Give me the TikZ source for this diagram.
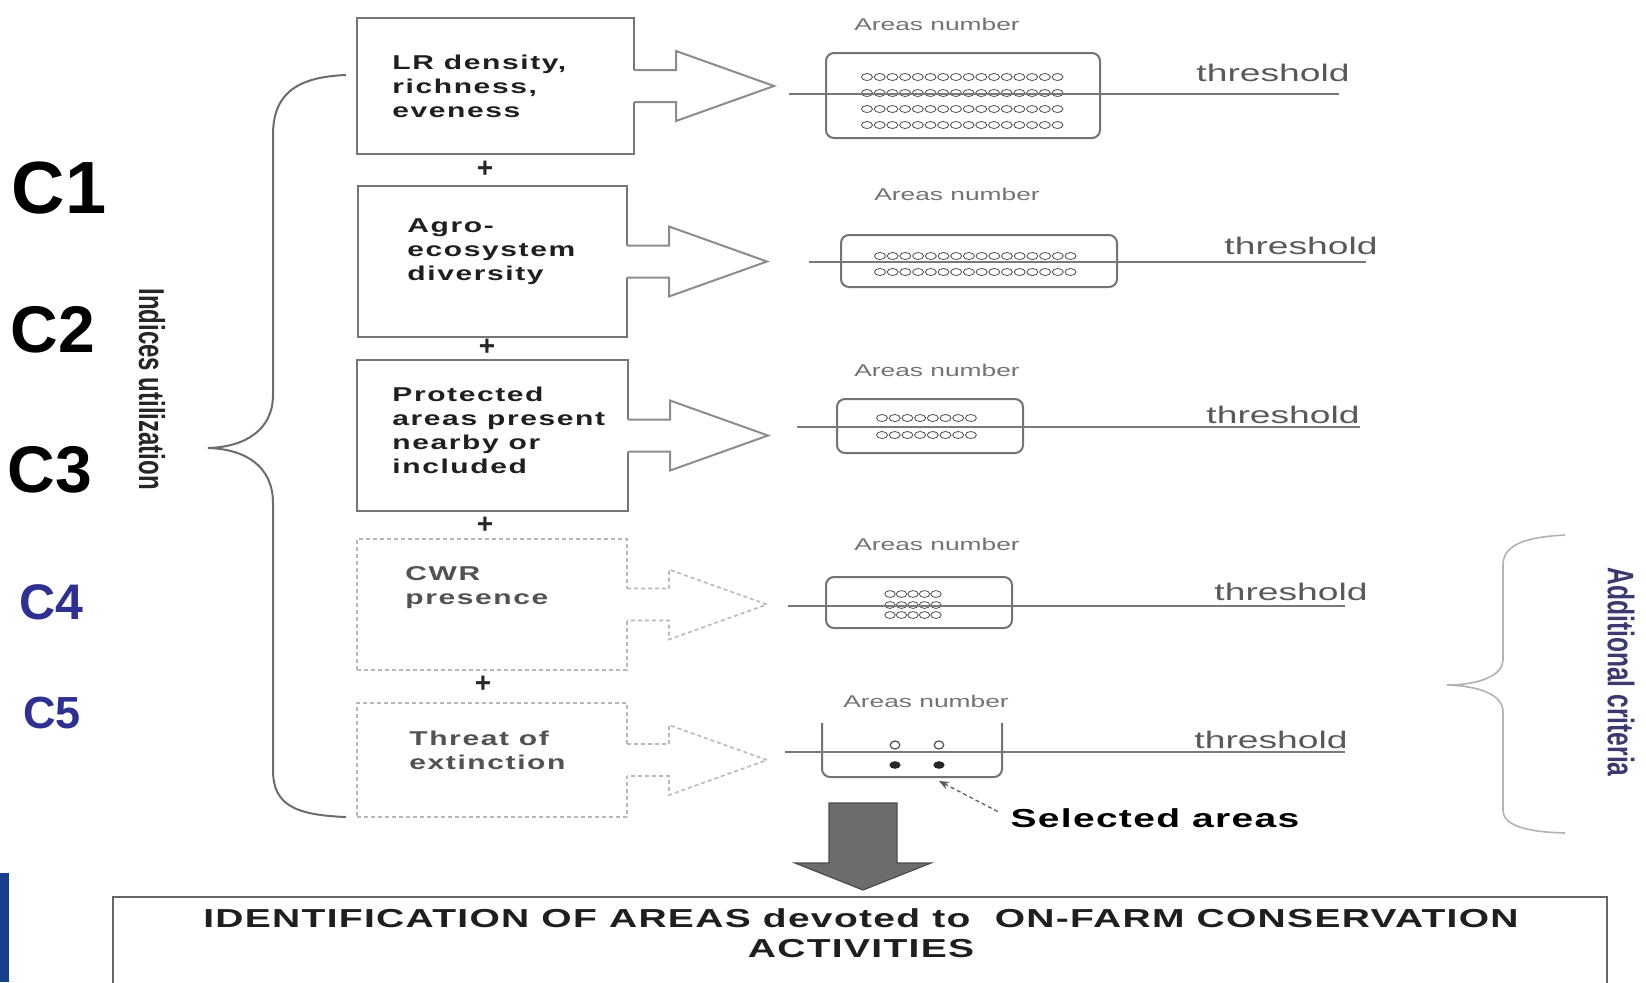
\documentclass[tikz,border=0pt]{standalone}
\usepackage{fontspec}
\setmainfont{Liberation Sans}
\setsansfont{Liberation Sans}
\newfontfamily\wbox{Liberation Sans}[FakeStretch=1.5,LetterSpace=8]
\newfontfamily\wbot{Liberation Sans}[FakeStretch=1.5,LetterSpace=5]
\newfontfamily\wreg{Liberation Sans}[FakeStretch=1.55]
\usetikzlibrary{calc,arrows.meta}
\definecolor{cblue}{RGB}{46,49,146}
\definecolor{barblue}{RGB}{24,62,140}
\definecolor{addblue}{RGB}{58,58,110}
\definecolor{boxgray}{RGB}{118,118,118}
\newcommand{\barrow}[2]{%
  \fill[white] ($(#1)+(-2,-16)$) -- ($(#1)+(42,-16)$) -- ($(#1)+(42,-35)$) -- ($(#1)+(140,0)$) -- ($(#1)+(42,35)$) -- ($(#1)+(42,16)$) -- ($(#1)+(-2,16)$) -- cycle;
  \draw[#2] ($(#1)+(0,-16)$) -- ($(#1)+(42,-16)$) -- ($(#1)+(42,-35)$) -- ($(#1)+(140,0)$) -- ($(#1)+(42,35)$) -- ($(#1)+(42,16)$) -- ($(#1)+(0,16)$);}
\begin{document}
\begin{tikzpicture}[x=0.5pt,y=-0.5pt,
  crit/.style={draw=boxgray, line width=1.3pt, inner sep=0pt, outer sep=0pt},
  critd/.style={draw=gray!55, line width=0.8pt, dash pattern=on 2pt off 1.5pt, inner sep=0pt, outer sep=0pt},
  ctext/.style={font=\wbox\bfseries\fontsize{10}{12}\selectfont, align=left, inner sep=0pt, anchor=west, text=black!88},
  ctextd/.style={ctext, text=black!68},
  barr/.style={draw=gray!90, line width=1pt, line join=miter},
  barrd/.style={draw=gray!55, line width=0.8pt, dash pattern=on 2pt off 1.5pt},
  abox/.style={draw=gray!90!black, line width=1pt, rounded corners=4pt, inner sep=0pt, outer sep=0pt},
  thr/.style={draw=gray!95!black, line width=1pt},
  thrtext/.style={font=\wreg\fontsize{12}{12}\selectfont, text=black!65, inner sep=0pt},
  antext/.style={font=\wreg\fontsize{8.5}{9}\selectfont, text=black!55, inner sep=0pt},
  dotc/.style={draw=black!70, line width=0.4pt},
  plus/.style={font=\bfseries\fontsize{14}{14}\selectfont, text=black!85, inner sep=0pt},
  clab/.style={inner sep=0pt},
  brace/.style={draw=gray!85!black, line width=1pt},
  bigarr/.style={fill=gray!85!black, draw=gray!60!black, line width=0.6pt}]
\fill[white] (0,0) rectangle (1646,982);
\useasboundingbox (0,0) rectangle (1646,982);

% C labels
\node[clab, font=\bfseries\fontsize{37}{40}\selectfont] (c1) at (59,188) {C1};
\node[clab, font=\bfseries\fontsize{33}{36}\selectfont] (c2) at (53,330) {C2};
\node[clab, font=\bfseries\fontsize{33}{36}\selectfont] (c3) at (50,470) {C3};
\node[clab, font=\bfseries\fontsize{25}{28}\selectfont, text=cblue] (c4) at (51,602) {C4};
\node[clab, font=\bfseries\fontsize{22.5}{25}\selectfont, text=cblue] (c5) at (52,713) {C5};

% rotated labels
\node[rotate=-90, inner sep=0pt, text=black!85] (iu) at (152,389) {\scalebox{1}[1.5]{\bfseries\fontsize{12}{12}\selectfont Indices utilization}};
\node[rotate=-90, inner sep=0pt, text=addblue] (ac) at (1621,672) {\scalebox{1}[1.5]{\bfseries\fontsize{12.3}{12}\selectfont Additional criteria}};

% braces
\draw[brace] (346,75) .. controls (295,77) and (273,95) .. (273,135) -- (273,395) .. controls (273,430) and (245,447) .. (208,448) .. controls (245,449) and (273,466) .. (273,503) -- (273,770) .. controls (273,805) and (295,815) .. (346,817);
\draw[draw=gray!60, line width=0.8pt] (1565,535) .. controls (1525,537) and (1503,545) .. (1503,565) -- (1503,660) .. controls (1503,675) and (1480,685) .. (1447,685) .. controls (1480,686) and (1503,695) .. (1503,712) -- (1503,810) .. controls (1503,825) and (1525,832) .. (1565,833);

% criterion boxes
\node[crit, minimum width=138.5pt, minimum height=68pt] (b1) at (495.5,86) {};
\node[crit, minimum width=134.5pt, minimum height=75.5pt] (b2) at (492.5,261.5) {};
\node[crit, minimum width=135.5pt, minimum height=75.5pt] (b3) at (492.5,435.5) {};
\node[critd, minimum width=135pt, minimum height=65.5pt] (b4) at (492,604.5) {};
\node[critd, minimum width=135pt, minimum height=57pt] (b5) at (492,760) {};

\node[ctext] (t1) at (392,86) {LR density,\\richness,\\eveness};
\node[ctext] (t2) at (407,252) {Agro-\\ecosystem\\diversity};
\node[ctext] (t3) at (392,430) {Protected\\areas present\\nearby or\\included};
\node[ctextd] (t4) at (405,588) {CWR\\presence};
\node[ctextd] (t5) at (409,750) {Threat of\\extinction};

\node[plus] (p1) at (485,169) {+};
\node[plus] (p2) at (487,347) {+};
\node[plus] (p3) at (485,525) {+};
\node[plus] (p4) at (483,684) {+};

% block arrows
\barrow{b1.east}{barr}
\barrow{b2.east}{barr}
\barrow{b3.east}{barr}
\barrow{b4.east}{barrd}
\barrow{b5.east}{barrd}

% area boxes
\node[abox, minimum width=137pt, minimum height=42.5pt] (ab1) at (963,95.5) {};
\node[abox, minimum width=138pt, minimum height=26pt] (ab2) at (979,261) {};
\node[abox, minimum width=93pt, minimum height=27pt] (ab3) at (930,426) {};
\node[abox, minimum width=93pt, minimum height=25.5pt] (ab4) at (919,602.5) {};
\node[inner sep=0pt, outer sep=0pt, minimum width=90pt, minimum height=27pt] (ab5) at (912,750) {};
\draw[abox] (ab5.north west) -- (ab5.south west) -- (ab5.south east) -- (ab5.north east);

\node[antext] (an1) at (937,24) {Areas number};
\node[antext] (an2) at (957,194) {Areas number};
\node[antext] (an3) at (937,370) {Areas number};
\node[antext] (an4) at (937,544) {Areas number};
\node[antext] (an5) at (926,701) {Areas number};

% dots
\foreach \r in {77,93,109,125} \foreach \i in {0,...,15}
  \draw[dotc] ({867+\i*12.7},\r) ellipse [x radius=2.75pt, y radius=1.75pt];
\foreach \r in {256,272} \foreach \i in {0,...,15}
  \draw[dotc] ({880+\i*12.7},\r) ellipse [x radius=2.75pt, y radius=1.75pt];
\foreach \r in {418,435} \foreach \i in {0,...,7}
  \draw[dotc] ({882+\i*12.7},\r) ellipse [x radius=2.75pt, y radius=1.75pt];
\foreach \r in {594,605,615} \foreach \i in {0,...,4}
  \draw[dotc] ({890+\i*11.5},\r) ellipse [x radius=2.6pt, y radius=1.7pt];
\draw[dotc, line width=0.6pt] (895,745) ellipse [x radius=2.4pt, y radius=2pt];
\draw[dotc, line width=0.6pt] (939,745) ellipse [x radius=2.4pt, y radius=2pt];
\fill[black!85] (895,765) ellipse [x radius=2.8pt, y radius=1.9pt];
\fill[black!85] (939,765) ellipse [x radius=2.8pt, y radius=1.9pt];
\coordinate (sdp) at (939,781);

% threshold lines
\coordinate (l1a) at (789,94);  \coordinate (l1b) at (1339,94);
\coordinate (l2a) at (809,262); \coordinate (l2b) at (1366,262);
\coordinate (l3a) at (797,427); \coordinate (l3b) at (1360,427);
\coordinate (l4a) at (788,606); \coordinate (l4b) at (1345,606);
\coordinate (l5a) at (785,752); \coordinate (l5b) at (1345,752);
\draw[thr] (l1a) -- (l1b);
\draw[thr] (l2a) -- (l2b);
\draw[thr] (l3a) -- (l3b);
\draw[thr] (l4a) -- (l4b);
\draw[thr] (l5a) -- (l5b);

\node[thrtext] (th1) at (1273,73) {threshold};
\node[thrtext] (th2) at (1301,246) {threshold};
\node[thrtext] (th3) at (1283,415) {threshold};
\node[thrtext] (th4) at (1291,592) {threshold};
\node[thrtext] (th5) at (1271,740) {threshold};

% selected areas
\node[inner sep=0pt, font=\wbot\bfseries\fontsize{13}{13}\selectfont] (sel) at (1155,818) {Selected areas};
\draw[draw=gray!70!black, line width=0.6pt, dash pattern=on 2pt off 1.5pt, shorten <=7pt, -{Stealth[length=5pt,width=4pt]}] (sel.west) -- (sdp);

% bottom box
\node[inner sep=0pt, outer sep=0pt, minimum width=747pt, minimum height=45pt] (bb) at (860,942) {};
\draw[draw=gray!80!black, line width=1pt] (bb.south west) -- (bb.north west) -- (bb.north east) -- (bb.south east);
\node[inner sep=0pt, align=center, text=black!88, font=\wbot\bfseries\fontsize{13}{15}\selectfont] (bt) at (861,933) {IDENTIFICATION OF AREAS devoted to\ \ ON-FARM CONSERVATION\\ACTIVITIES};

% big arrow
\coordinate (tip) at (863,890);
\filldraw[bigarr] ($(tip)+(-34,-87)$) -- ($(tip)+(34,-87)$) -- ($(tip)+(34,-27)$) -- ($(tip)+(68,-27)$) -- (tip) -- ($(tip)+(-68,-27)$) -- ($(tip)+(-34,-27)$) -- cycle;

% blue bar
\fill[barblue] (0,873) rectangle (9,982);
\end{tikzpicture}
\end{document}
